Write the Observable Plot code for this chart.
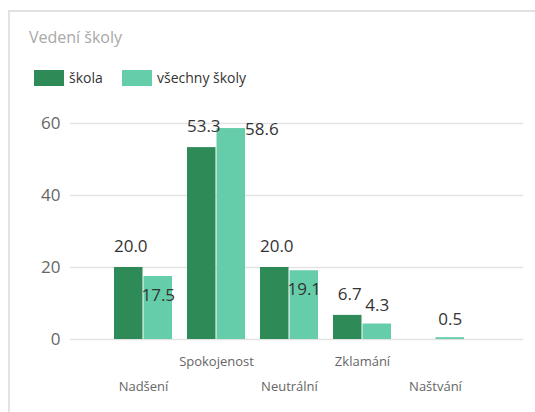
<!DOCTYPE html>
<html>
<head>
<meta charset="utf-8">
<script src="https://cdn.jsdelivr.net/npm/d3@7"></script>
<script src="https://cdn.jsdelivr.net/npm/@observablehq/plot@0.6"></script>
<style>
  html, body { margin: 0; padding: 0; background: #fff; width: 535px; height: 412px; overflow: hidden; }
  body { position: relative; font-family: "Open Sans", "Noto Sans", sans-serif; }
  #card { position: absolute; left: 8px; top: 10px; width: 600px; height: 420px;
          border-top: 2px solid #e2e2e2; border-left: 2px solid #e2e2e2; }
  #title { position: absolute; left: 29px; top: 29px; font-size: 16px; line-height: 16px; color: #a8a8a8; white-space: nowrap; }
  .leg { position: absolute; top: 70px; height: 16px; font-size: 14px; line-height: 16px; color: #333; white-space: nowrap; }
  .sw { position: absolute; top: 70px; width: 30px; height: 16px; }
  #chart { position: absolute; left: 0; top: 100px; }
</style>
</head>
<body>
<div id="card"></div>
<div id="title"></div>
<div id="legend"></div>
<div id="chart"></div>
<script>
const title = "Vedení školy";
const categories = ["Nadšení", "Spokojenost", "Neutrální", "Zklamání", "Naštvání"];
const seriesNames = ["škola", "všechny školy"];
const skola = [20.0, 53.3, 20.0, 6.7, 0];
const vsechnySkoly = [17.5, 58.6, 19.1, 4.3, 0.5];
const yTicks = [0, 20, 40, 60];
const colors = ["#2E8B57", "#66CDAA"];

document.getElementById("title").textContent = title;
const legend = document.getElementById("legend");
const legX = [34, 122];
seriesNames.forEach((name, i) => {
  const sw = document.createElement("div");
  sw.className = "sw"; sw.style.left = legX[i] + "px"; sw.style.background = colors[i];
  legend.appendChild(sw);
  const t = document.createElement("div");
  t.className = "leg"; t.style.left = (legX[i] + 35) + "px"; t.textContent = name;
  legend.appendChild(t);
});

const dark = categories.map((c, i) => ({category: c, value: skola[i], idx: i}));
const light = categories.map((c, i) => ({category: c, value: vsechnySkoly[i], idx: i}));

// label placement rule to avoid collisions between neighbouring labels
function placement(i) {
  const d = skola[i], l = vsechnySkoly[i];
  if (l < d && d - l < 5 && l >= 8) return "inside";
  if (d > 0 && l > d && l - d < 8) return "side";
  return "above";
}

const half = 29.5;
const fmt = v => v.toFixed(1);
const labelStyle = {fontSize: 17, fill: "#333", fontFamily: "Open Sans"};

const plot = Plot.plot({
  width: 535,
  height: 312,
  marginTop: 23,
  marginBottom: 73,
  marginLeft: 70,
  marginRight: 12,
  style: {fontFamily: "Open Sans", background: "transparent", overflow: "visible"},
  x: {domain: categories, paddingInner: 0.2, paddingOuter: 0.67, align: 0.43, axis: null, label: null},
  y: {domain: [0, 60], axis: null, label: null},
  marks: [
    Plot.gridY(yTicks, {stroke: "#e3e3e3", strokeOpacity: 1, strokeWidth: 1.5}),
    Plot.axisY(yTicks, {tickSize: 0, tickPadding: 10, fontSize: 17, fill: "#666", label: null, tickFormat: d => String(d)}),
    Plot.barY(dark, {x: "category", y: "value", fill: colors[0], insetRight: half}),
    Plot.barY(light, {x: "category", y: "value", fill: colors[1], insetLeft: half}),
    Plot.text(dark.filter(d => d.value > 0), {x: "category", y: "value", text: d => fmt(d.value), dx: -half / 2 + 2, dy: -21, ...labelStyle}),
    Plot.text(light.filter(d => d.value > 0 && placement(d.idx) === "above"), {x: "category", y: "value", text: d => fmt(d.value), dx: half / 2, dy: -18, ...labelStyle}),
    Plot.text(light.filter(d => d.value > 0 && placement(d.idx) === "inside"), {x: "category", y: "value", text: d => fmt(d.value), dx: half / 2, dy: 19, ...labelStyle}),
    Plot.text(light.filter(d => d.value > 0 && placement(d.idx) === "side"), {x: "category", y: "value", text: d => fmt(d.value), dx: half - 1, dy: 1, textAnchor: "start", ...labelStyle}),
    Plot.axisX(categories.filter((c, i) => i % 2 === 1), {tickSize: 0, tickPadding: 17, fontSize: 13, fill: "#666", label: null}),
    Plot.axisX(categories.filter((c, i) => i % 2 === 0), {tickSize: 0, tickPadding: 42, fontSize: 13, fill: "#666", label: null})
  ]
});
document.getElementById("chart").appendChild(plot);
</script>
</body>
</html>
